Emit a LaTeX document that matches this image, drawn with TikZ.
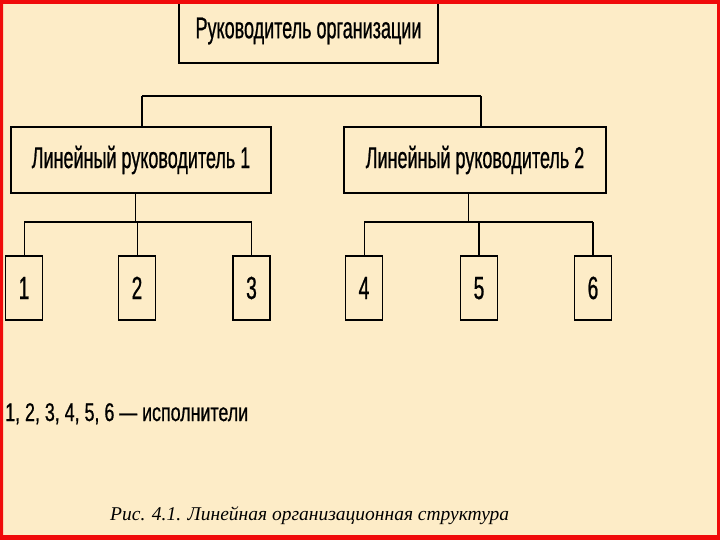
\documentclass[tikz,border=0pt]{standalone}
\usepackage{fontspec}
\newfontfamily\narrowfont{Liberation Sans}[FakeStretch=0.6, FakeBold=0.7]
\newfontfamily\notefont{Liberation Sans}[FakeStretch=0.7, FakeBold=0.7]
\newfontfamily\capfont{Liberation Serif}
\usetikzlibrary{positioning}
\definecolor{paper}{RGB}{253,236,199}
\definecolor{frame}{RGB}{240,10,10}

\begin{document}
\begin{tikzpicture}[
    x=1pt, y=-1pt,
    % Styles
    mainbox/.style={
        rectangle,
        draw=black,
        line width=1.4pt,
        inner sep=0pt,
        minimum height=64pt,
        align=center,
        font=\narrowfont\fontsize{30}{32}\selectfont
    },
    numbox/.style={
        rectangle,
        draw=black,
        line width=1.4pt,
        inner sep=0pt,
        text height=22pt,
        text depth=0pt,
        minimum width=37pt,
        minimum height=64pt,
        font=\narrowfont\fontsize{32}{34}\selectfont
    },
    note/.style={
        anchor=base west,
        inner sep=0pt
    },
    bar/.style={
        line width=2.4pt
    },
    link/.style={
        line width=1pt
    }
]
\useasboundingbox (0,0) rectangle (720,540);
\fill[paper] (0,0) rectangle (720,540);

% Head of the organisation
\node[mainbox, minimum width=259pt, minimum height=64pt] (head) at (308.5,31) {Руководитель организации};

% Line managers
\node[mainbox, minimum width=260pt, minimum height=66pt] (lead1) at (141,160) {Линейный руководитель 1};
\node[mainbox, minimum width=262pt, minimum height=66pt] (lead2) at (475,160) {Линейный руководитель 2};

% Top bar (not joined to the head box)
\coordinate (top) at (142,96);
\draw[bar] (top) -- (top -| 481,0);
\draw[link, line width=1.5pt] (top) -- (top |- lead1.north);
\draw[link, line width=1.5pt] (481,96) -- (481,127);

% Executors
\node[numbox] (e1) at (24,288) {1};
\node[numbox] (e2) at (137,288) {2};
\node[numbox] (e3) at (251.5,288) {3};
\node[numbox] (e4) at (364,288) {4};
\node[numbox] (e5) at (479,288) {5};
\node[numbox] (e6) at (593,288) {6};

% Group of line manager 1
\coordinate (j1) at (135,222);
\draw[link] (lead1.south -| j1) -- (j1);
\draw[bar] (e1.north |- j1) -- (e3.north |- j1);
\foreach \e in {e1,e2,e3}
    \draw[link] (\e.north) -- (\e.north |- j1);

% Group of line manager 2
\coordinate (j2) at (468,222);
\draw[link] (lead2.south -| j2) -- (j2);
\draw[bar] (e4.north |- j2) -- (e6.north |- j2);
\draw[link] (e4.north) -- (e4.north |- j2);
\draw[bar, line width=2pt] (e5.north) -- (e5.north |- j2);
\draw[bar, line width=2pt] (e6.north) -- (e6.north |- j2);

% Legend and caption
\node[note, font=\notefont\fontsize{25.5}{28}\selectfont] (legend) at (5,421) {1, 2, 3, 4, 5, 6 — исполнители};
\node[note, font=\capfont\itshape\fontsize{19.5}{24}\selectfont] (caption) at (110,520) {Рис. 4.1. Линейная организационная структура};

% Red frame
\fill[frame, even odd rule] (0,0) rectangle (720,540) (3,4) rectangle (717,535);
\end{tikzpicture}
\end{document}
